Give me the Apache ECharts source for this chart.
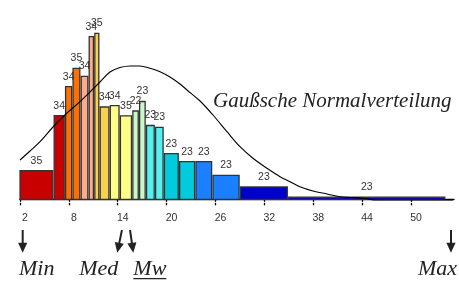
<!DOCTYPE html>
<html><head><meta charset="utf-8">
<script src="https://cdn.jsdelivr.net/npm/echarts@6/dist/echarts.min.js"></script>
<style>html,body{margin:0;padding:0;background:#fff}#c{width:459px;height:281px}</style>
</head><body><div id="c"></div>
<script>
// ---- data ----
const binEdges = [1.92, 6.11, 7.51, 8.43, 9.43, 10.41, 11.10, 11.76, 13.00, 14.24, 15.77, 16.60, 17.45, 18.56, 19.65, 21.51, 23.52, 25.61, 28.98, 34.90, 54.23];
const binHeights = [28.6, 83.6, 112.6, 131, 123, 162.6, 166, 92.3, 93.6, 83.5, 88.3, 97.8, 73.8, 72, 45.6, 37.6, 37.6, 24, 12.3, 2.1];
const binLabels = ["35","34","34","35","34","34","35","34","34","35","22","23","23","23","23","23","23","23","23","23"];
const tickValues = [2, 8, 14, 20, 26, 32, 38, 44, 50];
const curveX = [2.00, 3.23, 4.46, 6.05, 7.77, 9.37, 10.59, 11.82, 13.05, 14.28, 15.50, 16.73, 17.96, 19.19, 20.41, 21.64, 22.50, 24.10, 25.69, 27.41, 29.01, 30.60, 32.32, 33.92, 35.15, 36.37, 37.97, 39.69, 41.28, 44.11, 45.83, 48.65, 55.15];
const curveY = [39.3, 48.3, 57.6, 72.3, 86.3, 97.6, 107.3, 117.3, 127.3, 131.8, 133.3, 133.3, 131.0, 127.6, 122.3, 115.3, 109.3, 98.3, 84.3, 67.6, 52.6, 41.0, 31.0, 22.6, 17.6, 12.6, 8.3, 5.3, 2.6, 1.0, -0.7, -0.7, -0.7];
const curveTitle = "Gaußsche Normalverteilung";
const statNames = ["Min", "Med", "Mw", "Max"];
const statValues = [2.33, 13.94, 15.91, 54.91];

// ---- styles ----
const palette = ['#C80000','#C80000','#FF7000','#FF7000','#FFAA88','#FFAA88','#F8D24E','#F8D24E','#FFFF88','#FFFF88',
                 '#CCF7C8','#CCF7C8','#55F0F0','#55F0F0','#00CCDD','#00CCDD','#1A80FF','#1A80FF','#0000CC','#0000CC'];
const statTopShift = [0, 4.7, -3.3, 0];

const chart = echarts.init(document.getElementById('c'), null, {renderer: 'canvas'});
const barData = binHeights.map((h, i) => [binEdges[i], binEdges[i + 1], h]);
const curveData = curveX.map((x, i) => [x, curveY[i]]);

const axisCommon = {type: 'value', min: 2, max: 55.28, splitLine: {show: false}};
chart.setOption({
  animation: false,
  backgroundColor: '#fff',
  grid: {left: 20, right: 5, top: 0, bottom: 75.7, containLabel: false, outerBoundsMode: 'none'},
  xAxis: [
    Object.assign({}, axisCommon, {
      position: 'bottom',
      axisLine: {show: true, lineStyle: {color: '#000', width: 1.3}},
      axisTick: {show: true, customValues: tickValues, length: 2.5, lineStyle: {color: '#000', width: 1.3}},
      axisLabel: {show: true, customValues: tickValues, color: '#333', fontSize: 10.5, fontFamily: '"Liberation Sans", Arial', margin: 7, padding: [0, 0, 0, 10]}
    }),
    Object.assign({}, axisCommon, {
      position: 'bottom',
      axisLine: {show: false},
      axisTick: {show: true, inside: true, customValues: tickValues, length: 2.5, lineStyle: {color: '#000', width: 1.3}},
      axisLabel: {show: false}
    })
  ],
  yAxis: {type: 'value', min: -6, max: 199.3, show: false},
  series: [
    {
      type: 'custom',
      z: 2,
      clip: false,
      data: barData,
      encode: {x: [0, 1], y: 2},
      renderItem: function (params, api) {
        const l = api.value(0), r = api.value(1), h = api.value(2);
        const p0 = api.coord([l, h]);
        const p1 = api.coord([r, 0]);
        const gap = 0.7;
        const x = p0[0] + gap;
        const w = p1[0] - p0[0] - 2 * gap;
        const idx = params.dataIndex;
        return {
          type: 'group',
          children: [
            {type: 'rect', shape: {x: x, y: p0[1], width: w, height: p1[1] - p0[1]},
             style: {fill: palette[idx], stroke: '#333', lineWidth: 1.3}},
            {type: 'text', z2: 10, style: {text: binLabels[idx], x: x + w / 2, y: p0[1] - 4.5,
             align: 'center', verticalAlign: 'bottom', font: '10.5px "Liberation Sans", Arial', fill: '#333'}}
          ]
        };
      }
    },
    {
      type: 'line',
      z: 5,
      data: curveData,
      smooth: 0.35,
      symbol: 'none',
      clip: false,
      lineStyle: {color: '#000', width: 1.1}
    }
  ]
});

// ---- annotations (arrows + labels) positioned from the stat values ----
const cv = document.createElement('canvas').getContext('2d');
function textW(t, font) { cv.font = font; return cv.measureText(t).width; }
function arrow(xTop, yTop, xTip, yTip) {
  const dx = xTip - xTop, dy = yTip - yTop, len = Math.sqrt(dx * dx + dy * dy);
  const ux = dx / len, uy = dy / len, px = -uy, py = ux;
  const hl = 10, hw = 4.6;
  const bx = xTip - ux * hl, by = yTip - uy * hl;
  return [
    {type: 'line', shape: {x1: xTop, y1: yTop, x2: bx + ux * 1, y2: by + uy * 1}, style: {stroke: '#222', lineWidth: 2}},
    {type: 'polygon', shape: {points: [[xTip, yTip], [bx + px * hw, by + py * hw], [bx - px * hw, by - py * hw]]}, style: {fill: '#222'}}
  ];
}
const statFont = 'italic 22px "Liberation Serif", "Times New Roman", serif';
const gr = [];
gr.push({type: 'text', left: 213, top: 90.5, style: {text: curveTitle, font: 'italic 21px "Liberation Serif", "Times New Roman", serif', fill: '#222'}});
statValues.forEach(function (v, i) {
  const ax = chart.convertToPixel({xAxisIndex: 0}, v);
  arrow(ax + statTopShift[i], 230, ax, 252.7).forEach(e => gr.push(e));
  const w = textW(statNames[i], statFont);
  let left;
  if (i === 0) left = ax - 3.7;
  else if (i === 1) left = ax + 1 - w;
  else if (i === 2) left = ax;
  else left = ax + 6 - w;
  gr.push({type: 'text', x: left, y: 269.3, style: {text: statNames[i], font: statFont, fill: '#222', verticalAlign: 'middle', align: 'left'}});
  if (i === 2) {
    gr.push({type: 'line', shape: {x1: left, y1: 278.7, x2: left + w, y2: 278.7}, style: {stroke: '#222', lineWidth: 1.2}});
  }
});
chart.setOption({graphic: gr});
</script>
</body></html>
